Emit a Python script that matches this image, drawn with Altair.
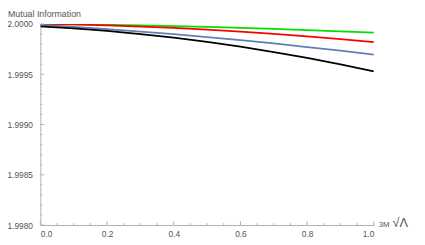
import altair as alt
import pandas as pd

x_vals = [0.0, 0.1, 0.2, 0.3, 0.4, 0.5, 0.6, 0.7, 0.8, 0.9, 1.0]
green = [2.000000, 1.9999965, 1.999992, 1.999986, 1.999979, 1.999971, 1.999962, 1.999952, 1.999940, 1.999927, 1.999914]
red = [1.999998, 1.999996, 1.999987, 1.999975, 1.999961, 1.999944, 1.999925, 1.999901, 1.999878, 1.999850, 1.999820]
blue = [1.999992, 1.999972, 1.999950, 1.999925, 1.999899, 1.999870, 1.999839, 1.999807, 1.999771, 1.999735, 1.999695]
black = [1.999976, 1.999957, 1.999931, 1.999900, 1.999864, 1.999822, 1.999775, 1.999721, 1.999662, 1.999599, 1.999529]
series_names = ["green", "red", "blue", "black"]
series_colors = ["#00e000", "#ff0000", "#5e81b5", "#000000"]

x_major = [0.0, 0.2, 0.4, 0.6, 0.8, 1.0]
x_minor = [0.05, 0.1, 0.15, 0.25, 0.3, 0.35, 0.45, 0.5, 0.55, 0.65, 0.7, 0.75, 0.85, 0.9, 0.95]
y_major = [1.998, 1.9985, 1.999, 1.9995, 2.0]
y_minor = [1.9981, 1.9982, 1.9983, 1.9984, 1.9986, 1.9987, 1.9988, 1.9989,
           1.9991, 1.9992, 1.9993, 1.9994, 1.9996, 1.9997, 1.9998, 1.9999]

rows = []
for name, vals in zip(series_names, [green, red, blue, black]):
    for xv, yv in zip(x_vals, vals):
        rows.append({"x": xv, "y": yv, "s": name})
df = pd.DataFrame(rows)

W, H = 340, 205
xs = alt.Scale(domain=[0, 1], nice=False, zero=False)
ys = alt.Scale(domain=[1.998, 2.0], nice=False, zero=False)

axis_color = "#b0b0b0"
text_color = "#555555"
font = "Liberation Sans"
fs = 8.5

x_axis = alt.Axis(values=x_major, format=".1f", ticks=False, domainColor=axis_color,
                  labelColor=text_color, labelFont=font, labelFontSize=fs, labelPadding=5,
                  grid=False, title=None)
y_axis = alt.Axis(values=y_major, format=".4f", ticks=False, domainColor=axis_color,
                  labelColor=text_color, labelFont=font, labelFontSize=fs, labelPadding=8,
                  grid=False, title=None)

lines = alt.Chart(df).mark_line(strokeWidth=1.8, clip=True).encode(
    x=alt.X("x:Q", scale=xs, axis=x_axis),
    y=alt.Y("y:Q", scale=ys, axis=y_axis),
    color=alt.Color("s:N", scale=alt.Scale(domain=series_names, range=series_colors), legend=None),
    detail="s:N",
)

xmaj = alt.Chart(pd.DataFrame({"t": x_major})).mark_rule(color=axis_color, strokeWidth=1).encode(
    x=alt.X("t:Q", scale=xs), y=alt.value(H), y2=alt.value(H - 4))
xmin = alt.Chart(pd.DataFrame({"t": x_minor})).mark_rule(color=axis_color, strokeWidth=1).encode(
    x=alt.X("t:Q", scale=xs), y=alt.value(H), y2=alt.value(H - 2))
ymaj = alt.Chart(pd.DataFrame({"t": y_major})).mark_rule(color=axis_color, strokeWidth=1).encode(
    y=alt.Y("t:Q", scale=ys), x=alt.value(0), x2=alt.value(4))
ymin = alt.Chart(pd.DataFrame({"t": y_minor})).mark_rule(color=axis_color, strokeWidth=1).encode(
    y=alt.Y("t:Q", scale=ys), x=alt.value(0), x2=alt.value(2))

ylabel = alt.Chart(pd.DataFrame({"t": ["Mutual Information"]})).mark_text(
    align="left", baseline="top", font=font, fontSize=9, color=text_color
).encode(text="t:N", x=alt.value(-33), y=alt.value(-14))

xlabel1 = alt.Chart(pd.DataFrame({"t": ["3M"]})).mark_text(
    align="left", baseline="middle", font=font, fontSize=8, color=text_color
).encode(text="t:N", x=alt.value(W + 5), y=alt.value(H))
xlabel2 = alt.Chart(pd.DataFrame({"t": ["√Λ"]})).mark_text(
    align="left", baseline="middle", font=font, fontSize=13, color=text_color
).encode(text="t:N", x=alt.value(W + 19), y=alt.value(H - 2))

chart = alt.layer(lines, xmaj, xmin, ymaj, ymin, ylabel, xlabel1, xlabel2).resolve_scale(
    x="shared", y="shared"
).properties(
    width=W, height=H,
    autosize=alt.AutoSizeParams(type="none"),
    padding={"left": 33, "top": 14, "right": 44, "bottom": 18},
    background="white",
).configure_view(strokeWidth=0, stroke="transparent")

chart.save("out.html", embed_options={"renderer": "svg", "actions": False})
